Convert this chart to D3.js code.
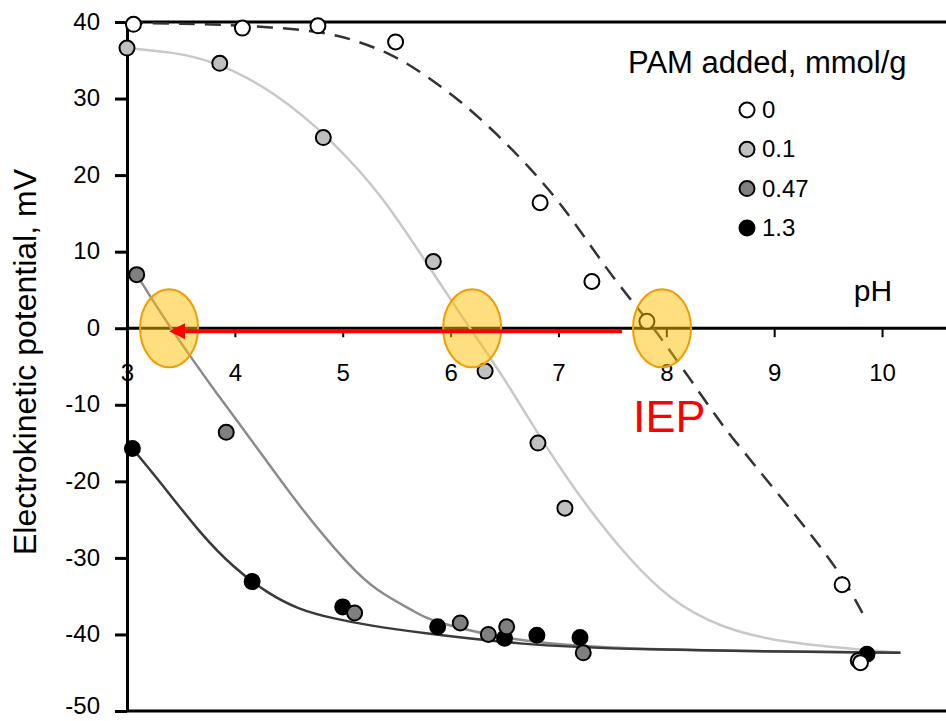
<!DOCTYPE html>
<html>
<head>
<meta charset="utf-8">
<script src="https://cdn.jsdelivr.net/npm/d3@7"></script>
<style>
  body { margin: 0; background: #fff; }
  svg text { font-family: "Liberation Sans", Arial, sans-serif; }
</style>
</head>
<body>
<div id="chart"></div>
<script>
// measured points, [pH, potential mV]
const seriesLabels = ["0", "0.1", "0.47", "1.3"];
const seriesFills = ["#ffffff", "#c0c0c0", "#808080", "#000000"];

const points0 = [[3.06, 39.7], [4.07, 39.2], [4.77, 39.5], [5.49, 37.4], [6.83, 16.4],
  [7.31, 6.1], [7.82, 0.9], [9.63, -33.5], [9.80, -43.7]];
const points01 = [[3.0, 36.6], [3.86, 34.6], [4.82, 24.9], [5.84, 8.7], [6.32, -5.6],
  [6.81, -15.0], [7.06, -23.5], [9.78, -43.4]];
const points047 = [[3.09, 7.0], [3.92, -13.6], [5.11, -37.2], [6.09, -38.5], [6.35, -40.0],
  [6.52, -39.0], [7.23, -42.4]];
const points13 = [[3.05, -15.7], [4.16, -33.1], [5.0, -36.4], [5.88, -39.0], [6.50, -40.5],
  [6.80, -40.1], [7.20, -40.4], [9.86, -42.6]];

// fitted curves
const fit0 = [[3.0, 39.9], [3.5, 39.8], [4.0, 39.6], [4.8, 38.9], [5.16, 37.4], [5.43, 35.9],
  [5.67, 34.0], [6.06, 30.1], [6.43, 25.4], [6.76, 20.6], [7.08, 15.3], [7.46, 7.4],
  [7.76, 2.2], [7.91, -0.5], [8.19, -6.0], [8.47, -11.7], [8.62, -14.5], [9.24, -25.1],
  [9.63, -32.2], [9.84, -37.8]];
const fit01 = [[3.0, 36.6], [3.4, 36.1], [3.8, 35.0], [4.35, 31.1], [4.91, 24.5], [5.37, 17.2],
  [5.69, 10.4], [6.18, -0.1], [6.46, -5.6], [6.92, -16.4], [7.29, -23.8], [7.64, -29.9],
  [8.03, -35.5], [8.50, -39.1], [9.05, -41.1], [10.17, -42.4]];
const fit047 = [[3.09, 7.0], [3.40, 0.0], [3.86, -9.1], [4.14, -14.3], [4.60, -23.4],
  [5.07, -31.2], [5.30, -34.2], [5.69, -37.2], [5.84, -38.4], [6.64, -41.0], [7.57, -42.0],
  [10.17, -42.4]];
const fit13 = [[3.05, -15.7], [3.12, -16.9], [3.37, -21.2], [3.68, -26.8], [3.98, -31.2],
  [4.30, -34.6], [4.60, -36.8], [4.91, -37.9], [5.23, -38.8], [5.72, -39.8], [6.64, -41.3],
  [7.57, -42.0], [10.17, -42.4]];

const xTicks = [3, 4, 5, 6, 7, 8, 9, 10];
const yTicks = [-50, -40, -30, -20, -10, 0, 10, 20, 30, 40];
const iepPh = [3.39, 6.2, 7.96];
const arrowFrom = 7.59, arrowTo = 3.4;

const width = 946, height = 721;

const svg = d3.select("#chart")
  .append("svg")
  .attr("width", width)
  .attr("height", height);

const x = d3.scaleLinear().domain([3, 10.593]).range([127, 946]);
const y = d3.scaleLinear().domain([-50, 40]).range([711, 22]);

// y axis with ticks on the left
const yAxis = svg.append("g")
  .attr("transform", `translate(${x(3)},0)`)
  .call(d3.axisLeft(y).tickValues(yTicks).tickFormat(d => String(d))
    .tickSize(12).tickPadding(15).tickSizeOuter(0));
yAxis.select(".domain").attr("stroke-width", 3);
yAxis.selectAll(".tick line").attr("stroke-width", 3);
yAxis.selectAll("text")
  .attr("dy", d => d === -50 ? "0.12em" : "0.3em")
  .style("font-size", "24px")
  .attr("fill", "#000");

// frame lines at top, bottom and zero
[40, -50, 0].forEach(v => {
  svg.append("line")
    .attr("x1", x(3)).attr("x2", x.range()[1])
    .attr("y1", y(v)).attr("y2", y(v))
    .attr("stroke", "#000").attr("stroke-width", 3);
});

// x axis sitting on zero
const xAxis = svg.append("g")
  .attr("transform", `translate(0,${y(0)})`)
  .call(d3.axisBottom(x).tickValues(xTicks).tickSize(9).tickPadding(27).tickSizeOuter(0));
xAxis.select(".domain").remove();
xAxis.selectAll(".tick line").attr("stroke-width", 2);
xAxis.selectAll("text").style("font-size", "24px").attr("fill", "#000");

// fit curves
const line = d3.line()
  .x(d => x(d[0]))
  .y(d => y(d[1]))
  .curve(d3.curveBasis);

const fits = [
  { data: fit01, color: "#c8c8c8", dash: null },
  { data: fit047, color: "#8c8c8c", dash: null },
  { data: fit13, color: "#3a3a3a", dash: null },
  { data: fit0, color: "#333333", dash: "16,10" }
];

svg.selectAll(".fit")
  .data(fits)
  .join("path")
  .attr("class", "fit")
  .attr("d", d => line(d.data))
  .attr("fill", "none")
  .attr("stroke", d => d.color)
  .attr("stroke-width", 2.5)
  .attr("stroke-dasharray", d => d.dash);

// data markers, darkest first
const allPoints = [points13, points047, points01, points0];
const allFills = [seriesFills[3], seriesFills[2], seriesFills[1], seriesFills[0]];

allPoints.forEach((pts, i) => {
  svg.append("g")
    .selectAll("circle")
    .data(pts)
    .join("circle")
    .attr("cx", d => x(d[0]))
    .attr("cy", d => y(d[1]))
    .attr("r", 7.5)
    .attr("fill", allFills[i])
    .attr("stroke", "#000")
    .attr("stroke-width", 2);
});

// IEP ellipses
svg.selectAll(".iep")
  .data(iepPh)
  .join("ellipse")
  .attr("class", "iep")
  .attr("cx", d => x(d))
  .attr("cy", y(0))
  .attr("rx", 29)
  .attr("ry", 39)
  .attr("fill", "#ffc000")
  .attr("fill-opacity", 0.5)
  .attr("stroke", "#f29c00")
  .attr("stroke-width", 2);

// red arrow
svg.append("defs").append("marker")
  .attr("id", "head")
  .attr("viewBox", "0 0 10 10")
  .attr("refX", 0).attr("refY", 5)
  .attr("markerWidth", 4).attr("markerHeight", 4.4)
  .attr("orient", "auto")
  .append("path")
  .attr("d", "M0,0 L10,5 L0,10 z")
  .attr("fill", "#ff0000");

svg.append("line")
  .attr("x1", x(arrowFrom)).attr("x2", x(arrowTo) + 15)
  .attr("y1", y(0) + 3).attr("y2", y(0) + 3)
  .attr("stroke", "#ff0000")
  .attr("stroke-width", 4)
  .attr("marker-end", "url(#head)");

// labels
svg.append("text")
  .attr("transform", "translate(36,362) rotate(-90)")
  .attr("text-anchor", "middle")
  .style("font-size", "32px")
  .text("Electrokinetic potential, mV");

svg.append("text")
  .attr("x", 873).attr("y", 301)
  .attr("text-anchor", "middle")
  .style("font-size", "30px")
  .text("pH");

svg.append("text")
  .attr("x", 633).attr("y", 432)
  .attr("fill", "#ff0000")
  .style("font-size", "45px")
  .text("IEP");

// legend
svg.append("text")
  .attr("x", 628).attr("y", 73)
  .style("font-size", "31px")
  .text("PAM added, mmol/g");

const legend = svg.append("g")
  .selectAll("g")
  .data(seriesLabels)
  .join("g")
  .attr("transform", (d, i) => `translate(747,${110 + i * 39.3})`);

legend.append("circle")
  .attr("r", 7.5)
  .attr("fill", (d, i) => seriesFills[i])
  .attr("stroke", "#000")
  .attr("stroke-width", 2);

legend.append("text")
  .attr("x", 15).attr("y", 8)
  .style("font-size", "24px")
  .text(d => d);
</script>
</body>
</html>
